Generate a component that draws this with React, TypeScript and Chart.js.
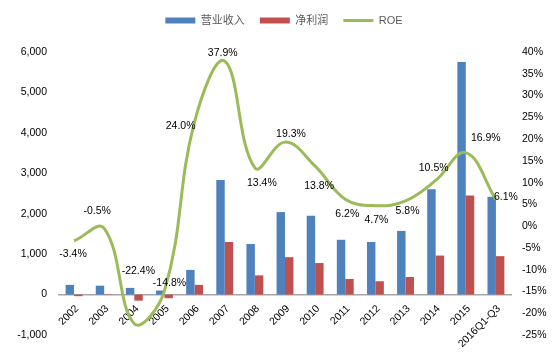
import React, { useEffect, useRef } from 'react';
import { Chart, registerables } from 'chart.js';

Chart.register(...registerables);

const categories = ['2002', '2003', '2004', '2005', '2006', '2007', '2008', '2009', '2010', '2011', '2012', '2013', '2014', '2015', '2016Q1-Q3'];
const revenue = [240, 220, 165, 100, 610, 2835, 1250, 2040, 1950, 1355, 1300, 1575, 2605, 5750, 2420];
const netProfit = [-40, -10, -150, -90, 240, 1300, 475, 925, 780, 385, 330, 435, 965, 2450, 950];
const roe = [-3.4, -0.5, -22.4, -14.8, 24.0, 37.9, 13.4, 19.3, 13.8, 6.2, 4.7, 5.8, 10.5, 16.9, 6.1];
const seriesNames = ['营业收入', '净利润', 'ROE'];

// label offsets (dx, dy) in px relative to each ROE point
const roeLabelOffsets = [[-1, 13], [-7, -17], [4, -53], [5, -7], [-14, 4], [-2, -8], [7, 15], [6, -8], [4, 20], [2, 15], [1, 14], [2, 10], [-2, -12], [20, -14], [10, -2]];

const BLUE = '#4F81BD';
const RED = '#C0504D';
const GREEN = '#9BBB59';
const TICK_FONT = { family: "'Liberation Sans', Arial, sans-serif", size: 10.5 };

const roeLabelsPlugin = {
  id: 'roeLabels',
  afterDatasetsDraw(chart: any) {
    const meta = chart.getDatasetMeta(2);
    const ctx = chart.ctx;
    ctx.save();
    ctx.font = "10.5px 'Liberation Sans', Arial, sans-serif";
    ctx.fillStyle = '#000000';
    ctx.textAlign = 'center';
    ctx.textBaseline = 'middle';
    meta.data.forEach((pt: any, i: number) => {
      const [dx, dy] = roeLabelOffsets[i];
      ctx.fillText(roe[i].toFixed(1) + '%', pt.x + dx, pt.y + dy);
    });
    ctx.restore();
  },
};

const legendSpacer = {
  id: 'legendSpacer',
  beforeLayout(chart: any) {
    const lg = chart.legend;
    if (lg && !lg._spaced) {
      const orig = lg.fit.bind(lg);
      lg.fit = () => {
        orig();
        lg.height += 16;
      };
      lg._spaced = true;
    }
  },
};

export default function App() {
  const ref = useRef<HTMLCanvasElement>(null);
  useEffect(() => {
    document.body.style.margin = '0';
    const chart = new Chart(ref.current as HTMLCanvasElement, {
      type: 'bar',
      data: {
        labels: categories,
        datasets: [
          { type: 'bar', label: seriesNames[0], data: revenue, backgroundColor: BLUE, yAxisID: 'y', order: 2, categoryPercentage: 0.56, barPercentage: 1.0 },
          { type: 'bar', label: seriesNames[1], data: netProfit, backgroundColor: RED, yAxisID: 'y', order: 2, categoryPercentage: 0.56, barPercentage: 1.0 },
          { type: 'line', label: seriesNames[2], data: roe, borderColor: GREEN, backgroundColor: GREEN, borderWidth: 3, pointRadius: 0, tension: 0.4, yAxisID: 'y1', order: 1 } as any,
        ],
      },
      plugins: [roeLabelsPlugin, legendSpacer],
      options: {
        animation: false,
        responsive: false,
        layout: { padding: { left: 15, right: 0, top: 0, bottom: 20 } },
        plugins: {
          tooltip: { enabled: false },
          legend: {
            position: 'top',
            labels: {
              usePointStyle: true,
              pointStyleWidth: 30,
              boxHeight: 6,
              padding: 15,
              color: '#595959',
              font: { family: "'Liberation Sans', 'Noto Sans CJK SC', sans-serif", size: 11 },
              sort: (a: any, b: any) => a.datasetIndex - b.datasetIndex,
              generateLabels: (chart: any) => {
                const items = Chart.defaults.plugins.legend.labels.generateLabels(chart);
                return items.map((it: any) => {
                  if (it.datasetIndex === 2) {
                    return { ...it, pointStyle: 'line', strokeStyle: GREEN, fillStyle: GREEN, lineWidth: 3 };
                  }
                  const c = it.datasetIndex === 0 ? BLUE : RED;
                  return { ...it, pointStyle: 'rect', fillStyle: c, strokeStyle: c, lineWidth: 0 };
                });
              },
            },
          },
        },
        scales: {
          x: {
            position: { y: 0 } as any,
            grid: { display: false, drawTicks: false },
            border: { display: true, color: '#A6A6A6', width: 1.5 },
            ticks: { autoSkip: false, minRotation: 45, maxRotation: 45, color: '#000000', font: TICK_FONT, padding: 8, labelOffset: 3 },
          },
          y: {
            position: 'left',
            min: -1000,
            max: 6000,
            grid: { display: false, drawTicks: false },
            border: { display: false },
            ticks: {
              stepSize: 1000,
              padding: 12,
              color: '#000000',
              font: TICK_FONT,
              callback: (v: any) => Number(v).toLocaleString('en-US'),
            },
            afterFit: (s: any) => { s.width = 44; },
          },
          y1: {
            position: 'right',
            min: -25,
            max: 40,
            grid: { display: false, drawTicks: false },
            border: { display: false },
            ticks: {
              stepSize: 5,
              padding: 11,
              color: '#000000',
              font: TICK_FONT,
              callback: (v: any) => v + '%',
            },
            afterFit: (s: any) => { s.width = 42; },
          },
        },
      },
    });
    return () => chart.destroy();
  }, []);
  return (
    <div style={{ width: 553, height: 355, background: '#ffffff' }}>
      <canvas ref={ref} width={553} height={355} style={{ display: 'block' }} />
    </div>
  );
}
